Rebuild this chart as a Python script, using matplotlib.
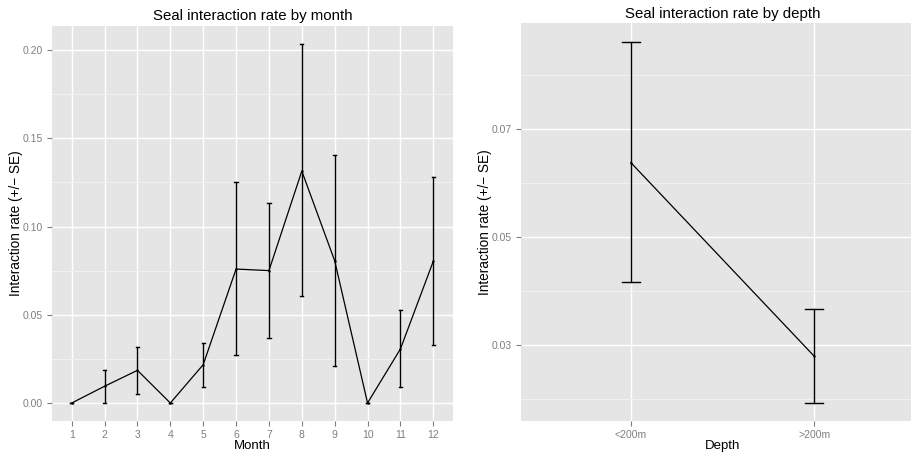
import matplotlib
matplotlib.use("Agg")
import matplotlib.pyplot as plt
import numpy as np

plt.rcParams['font.family'] = ['Liberation Sans', 'DejaVu Sans']

# Data
months = ["1", "2", "3", "4", "5", "6", "7", "8", "9", "10", "11", "12"]
month_rate = [0.0, 0.0095, 0.0185, 0.0, 0.0217, 0.0759, 0.0750, 0.1314, 0.0806, 0.0, 0.0306, 0.0803]
month_upper = [0.0, 0.0189, 0.0319, 0.0, 0.0342, 0.1254, 0.1135, 0.2036, 0.1407, 0.0, 0.0525, 0.1282]
month_lower = [0.0, 0.0, 0.0053, 0.0, 0.0092, 0.0270, 0.0370, 0.0604, 0.0211, 0.0, 0.0092, 0.0329]

depths = ["<200m", ">200m"]
depth_rate = [0.0638, 0.0280]
depth_upper = [0.0861, 0.0367]
depth_lower = [0.0417, 0.0193]

month_yticks = [0.00, 0.05, 0.10, 0.15, 0.20]
month_yminor = [0.025, 0.075, 0.125, 0.175]
depth_yticks = [0.03, 0.05, 0.07]
depth_yminor = [0.02, 0.04, 0.06, 0.08]

BG = "#E5E5E5"
TICKC = "#7F7F7F"

fig = plt.figure(figsize=(9.12, 4.54), dpi=100)
ax1 = fig.add_axes([52/912, 1-421/454, 401/912, 395/454])
# right panel is cropped by the figure edge in the reference
ax2 = fig.add_axes([521/912, 1-420.7/454, 403/912, 397.4/454])


def style(ax, xpos, yt, ym):
    ax.set_facecolor(BG)
    for s in ax.spines.values():
        s.set_visible(False)
    ax.set_yticks(yt)
    ax.set_yticks(ym, minor=True)
    ax.set_xticks(xpos)
    ax.grid(True, which='major', color='white', linewidth=1.0)
    ax.grid(True, which='minor', axis='y', color='#F2F2F2', linewidth=0.7)
    ax.tick_params(which='major', colors=TICKC, labelcolor=TICKC, labelsize=7.5,
                   length=3.5, width=0.8, pad=3)
    ax.tick_params(which='minor', length=0)
    ax.set_axisbelow(True)


def draw(ax, xs, rate, up, lo, capw, lw):
    ax.plot(xs, rate, color='black', linewidth=0.9, zorder=3)
    ax.scatter(xs, rate, color='black', s=3, zorder=4, linewidths=0)
    for x, u, l in zip(xs, up, lo):
        ax.plot([x, x], [l, u], color='black', linewidth=lw, zorder=3)
        ax.plot([x - capw, x + capw], [u, u], color='black', linewidth=lw, zorder=3)
        ax.plot([x - capw, x + capw], [l, l], color='black', linewidth=lw, zorder=3)


x1 = np.arange(1, len(months) + 1)
draw(ax1, x1, month_rate, month_upper, month_lower, 0.05, 1.0)
style(ax1, x1, month_yticks, month_yminor)
ax1.set_xticklabels(months)
ax1.set_yticklabels([f"{v:.2f}" for v in month_yticks])
ax1.set_xlim(0.4, 12.6)
ax1.set_ylim(-0.0102, 0.2136)
ax1.set_title("Seal interaction rate by month", fontsize=10.8, pad=4)
ax1.set_xlabel("Month", fontsize=9.5, labelpad=0)
ax1.set_ylabel("Interaction rate (+/\u2212 SE)", fontsize=9.8, labelpad=0)

x2 = np.arange(1, len(depths) + 1)
draw(ax2, x2, depth_rate, depth_upper, depth_lower, 0.05, 1.0)
style(ax2, x2, depth_yticks, depth_yminor)
ax2.set_xticklabels(depths)
ax2.set_yticklabels([f"{v:.2f}" for v in depth_yticks])
ax2.set_xlim(0.4, 2.6)
ax2.set_ylim(0.01604, 0.0896)
ax2.set_title("Seal interaction rate by depth", fontsize=10.8, pad=4)
ax2.set_xlabel("Depth", fontsize=9.5, labelpad=0)
ax2.set_ylabel("Interaction rate (+/\u2212 SE)", fontsize=9.8, labelpad=0)

fig.savefig("out.png", dpi=100)
